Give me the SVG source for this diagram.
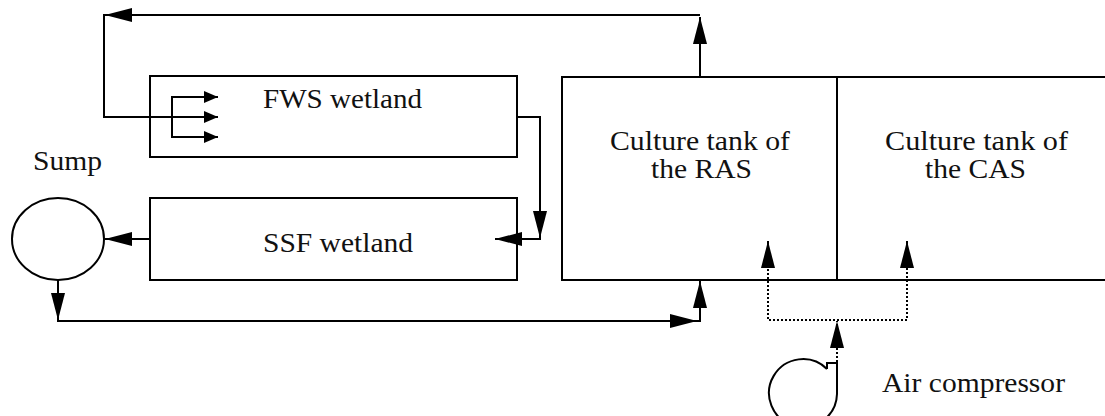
<svg xmlns="http://www.w3.org/2000/svg" width="1105" height="416" viewBox="0 0 1105 416">
<style>
.ln{fill:none;stroke:#000;stroke-width:2}
.dot{fill:none;stroke:#000;stroke-width:2;stroke-dasharray:2,2}
.box{fill:#fff;stroke:#000;stroke-width:2}
.t{font-family:"Liberation Serif","Times New Roman",serif;font-size:27px;fill:#111}
</style>
<defs>
<marker id="a" markerUnits="userSpaceOnUse" markerWidth="28" markerHeight="14" refX="27" refY="7" orient="auto"><path d="M0,0 L27,7 L0,14 z" fill="#000"/></marker>
<marker id="s" markerUnits="userSpaceOnUse" markerWidth="14" markerHeight="12" refX="14" refY="6" orient="auto"><path d="M0,0 L14,6 L0,12 z" fill="#000"/></marker>
</defs>
<g id="fws"><rect class="box" x="150" y="76" width="367" height="81"/><text class="t" x="263" y="108" textLength="159" lengthAdjust="spacingAndGlyphs">FWS wetland</text></g>
<g id="ssf"><rect class="box" x="150" y="198" width="367" height="82"/><text class="t" x="263" y="252" textLength="150" lengthAdjust="spacingAndGlyphs">SSF wetland</text></g>
<g id="sump"><ellipse class="ln" cx="58" cy="239" rx="46" ry="41"/><text class="t" x="33" y="170" textLength="69" lengthAdjust="spacingAndGlyphs">Sump</text></g>
<g id="ras"><rect class="box" x="562" y="77" width="560" height="203"/><text class="t" x="610" y="150" textLength="180" lengthAdjust="spacingAndGlyphs">Culture tank of</text><text class="t" x="651" y="178" textLength="101" lengthAdjust="spacingAndGlyphs">the RAS</text></g>
<g id="cas"><line class="ln" x1="837" y1="77" x2="837" y2="280"/><text class="t" x="885" y="150" textLength="183" lengthAdjust="spacingAndGlyphs">Culture tank of</text><text class="t" x="925" y="178" textLength="101" lengthAdjust="spacingAndGlyphs">the CAS</text></g>
<g id="compressor"><path class="ln" d="M827,369 L827,363 L837,363 L837,394 A34,34 0 1,1 827,369"/><text class="t" x="882" y="392" textLength="183" lengthAdjust="spacingAndGlyphs">Air compressor</text></g>
<g id="connectors">
<path class="ln" d="M700,77 L700,17" marker-end="url(#a)"/>
<path class="ln" d="M700,15 L105,15" marker-end="url(#a)"/>
<path class="ln" d="M104,14 L104,117 L218,117" marker-end="url(#s)"/>
<path class="ln" d="M172,97 L172,137"/>
<path class="ln" d="M171,97 L218,97" marker-end="url(#s)"/>
<path class="ln" d="M171,137 L218,137" marker-end="url(#s)"/>
<path class="ln" d="M517,117 L540,117 L540,238" marker-end="url(#a)"/>
<path class="ln" d="M541,239 L495,239" marker-end="url(#a)"/>
<path class="ln" d="M150,239 L105,239" marker-end="url(#a)"/>
<path class="ln" d="M58,280 L58,320" marker-end="url(#a)"/>
<path class="ln" d="M58,319 L58,321 L697,321" marker-end="url(#a)"/>
<path class="ln" d="M700,322 L700,281" marker-end="url(#a)"/>
<path class="ln" d="M695,321 L701,321"/>
<path class="dot" d="M837,362 L837,321" marker-end="url(#a)"/>
<path class="dot" d="M768,265 L768,320 L907,320 L907,265"/>
<path class="ln" d="M768,268 L768,241" marker-end="url(#a)"/>
<path class="ln" d="M907,268 L907,241" marker-end="url(#a)"/>
</g>
</svg>
